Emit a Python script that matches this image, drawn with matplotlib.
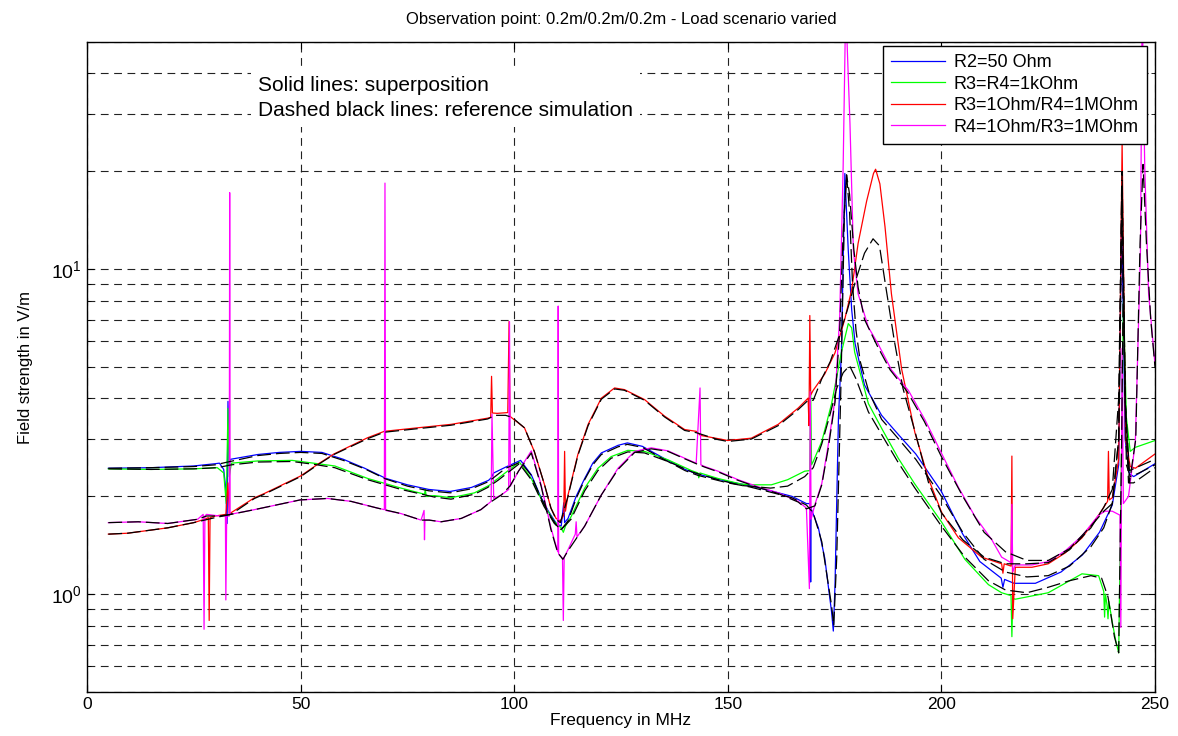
import numpy as np
import matplotlib
matplotlib.use("Agg")
import matplotlib.pyplot as plt
from matplotlib.ticker import FixedLocator, LogLocator, NullFormatter

plt.rcParams["font.family"] = "Liberation Sans"
plt.rcParams["mathtext.fontset"] = "custom"
plt.rcParams["mathtext.rm"] = "Liberation Sans"
plt.rcParams["mathtext.it"] = "Liberation Sans:italic"

# (frequency in MHz, field strength in V/m) - superposition results
blue = [(5, 2.44), (15, 2.45), (25, 2.48), (30, 2.52), (31.0, 2.53), (32.0, 2.42), (32.5, 2.10), (32.8, 1.65),
        (33.0, 3.92), (33.3, 2.50), (33.6, 2.60), (40, 2.69), (45, 2.73), (50, 2.75), (55, 2.73), (60, 2.60),
        (65, 2.44), (70, 2.27), (75, 2.17), (80, 2.10), (85, 2.07), (90, 2.13), (94, 2.24), (94.6, 2.28),
        (95.2, 2.36), (98, 2.46), (101.5, 2.58), (104, 2.33), (106, 2.02), (108, 1.80), (110, 1.64), (111, 1.62),
        (111.6, 1.91), (111.8, 1.66), (112.6, 1.71), (114.5, 2.00), (116.5, 2.27), (118.4, 2.53), (120.4, 2.72),
        (124.3, 2.87), (126.5, 2.92), (130, 2.85), (135, 2.62), (140, 2.42), (143, 2.34), (150, 2.22),
        (155, 2.16), (160, 2.08), (165, 2.00), (168.4, 1.90), (169.3, 1.90), (169.4, 1.09), (169.5, 1.85),
        (169.6, 1.82), (171.2, 1.60), (172.7, 1.29), (174.3, 0.88), (174.7, 0.77), (175.1, 1.07), (175.9, 3.48),
        (176.6, 5.6), (177.4, 19.7), (178.2, 11.4), (179.0, 7.5), (179.8, 5.9), (182, 4.4), (186, 3.55),
        (190, 3.09), (194, 2.70), (200, 2.07), (205, 1.53), (209, 1.26), (214, 1.12), (214.4, 1.05),
        (214.8, 1.11), (217, 1.08), (222, 1.08), (228, 1.17), (233, 1.32), (237, 1.55), (240, 1.88),
        (241.5, 2.5), (242.2, 15.0), (243.0, 3.0), (244, 2.35), (245, 2.30), (250, 2.52)]

green = [(5, 2.43), (15, 2.42), (25, 2.43), (30.5, 2.45), (32.0, 2.36), (32.6, 1.90), (33.0, 3.73), (33.3, 2.30),
         (33.8, 2.53), (40, 2.57), (48, 2.58), (53, 2.53), (58, 2.48), (65.7, 2.27), (73.5, 2.12), (79.0, 2.03),
         (79.2, 2.10), (79.4, 2.00), (81.3, 2.01), (85.2, 1.98), (90.7, 2.05), (93.8, 2.15), (94.6, 2.18),
         (95.2, 2.22), (96.2, 2.27), (101.2, 2.55), (104, 2.27), (107, 1.88), (109.4, 1.67), (111, 1.60),
         (111.5, 1.55), (112, 1.62), (113.3, 1.73), (116.5, 2.12), (119.6, 2.44), (122.7, 2.65), (126.6, 2.77),
         (130.5, 2.75), (136, 2.59), (141.5, 2.40), (143.0, 2.36), (143.2, 2.28), (143.5, 2.36), (147.7, 2.27),
         (153.2, 2.18), (155.5, 2.17), (160.2, 2.17), (164, 2.25), (168, 2.39), (169.2, 2.40), (169.4, 4.20),
         (169.6, 2.50), (170, 2.56), (172, 2.95), (174.3, 3.86), (176.6, 5.55), (178.2, 6.8), (179.0, 6.6),
         (179.7, 5.55), (182.9, 3.86), (186, 3.24), (189.9, 2.62), (193.7, 2.19), (200, 1.67), (205.5, 1.28),
         (211, 1.07), (214.1, 1.01), (216.3, 0.99), (216.5, 0.74), (216.7, 0.97), (217.3, 0.965), (225, 1.01),
         (232.9, 1.155), (236.8, 1.14), (238.0, 1.02), (238.2, 0.85), (238.4, 1.00), (238.8, 0.92),
         (239.0, 0.84), (239.2, 0.95), (240, 0.82), (240.8, 0.72), (241.5, 0.66), (242.2, 3.0), (242.6, 8.0),
         (243.3, 3.5), (244.2, 2.75), (245.4, 2.83), (250, 2.97)]

red = [(5, 1.53), (9.5, 1.54), (18.9, 1.60), (25, 1.66), (27.5, 1.70), (28.4, 1.72), (28.6, 0.83), (28.8, 1.72),
       (30, 1.74), (32.5, 1.76), (33.0, 2.20), (33.3, 1.76), (33.7, 1.78), (39.2, 1.98), (41.5, 2.04), (50, 2.31),
       (54, 2.51), (57.8, 2.70), (65.7, 3.03), (69.6, 3.17), (77.4, 3.25), (85.2, 3.33), (93.8, 3.48),
       (94.5, 3.50), (94.7, 4.68), (94.9, 3.61), (96, 3.60), (98.5, 3.62), (98.8, 6.9), (99.0, 3.53),
       (99.3, 3.50), (102.4, 3.25), (104.7, 2.75), (107.1, 2.17), (108.6, 1.84), (109.8, 1.71), (110.8, 1.68),
       (111.6, 1.75), (111.8, 2.75), (112.0, 1.80), (112.6, 2.02), (114.9, 2.69), (117.3, 3.33), (120.4, 4.01),
       (123.5, 4.31), (125.8, 4.26), (130.5, 3.97), (135.2, 3.53), (139.9, 3.21), (142.6, 3.17), (143.6, 3.08),
       (147.7, 3.01), (150, 2.97), (155.5, 3.02), (161.8, 3.33), (166.5, 3.74), (168.8, 4.01), (169.0, 3.30),
       (169.2, 7.2), (169.4, 4.10), (170, 4.24), (172.7, 4.76), (175.1, 5.53), (177.4, 7.03), (179, 8.65),
       (180.5, 12.0), (182.5, 16.2), (184.1, 19.7), (184.6, 20.3), (185.6, 18.3), (186.8, 13.5), (188.3, 8.4),
       (190.7, 4.92), (193.8, 3.14), (197, 2.26), (200.1, 1.78), (204, 1.49), (209.4, 1.30), (214.1, 1.24),
       (214.4, 1.16), (214.7, 1.24), (216.3, 1.22), (216.5, 2.66), (216.7, 0.84), (217.3, 1.21), (221.2, 1.21),
       (225, 1.24), (229, 1.34), (232.9, 1.49), (236.8, 1.75), (238.9, 1.93), (239.1, 2.75), (239.3, 1.95),
       (240, 1.98), (241.5, 2.6), (242.3, 24.5), (243.1, 3.0), (244.2, 2.47), (245.4, 2.44), (250, 2.70)]

magenta = [(5, 1.66), (12, 1.67), (18.9, 1.65), (25.9, 1.70), (27.2, 1.76), (27.4, 0.78), (27.6, 1.74),
           (28, 1.76), (31, 1.74), (32.4, 1.74), (32.5, 0.96), (32.7, 1.74), (33.3, 1.74), (33.4, 17.2),
           (33.5, 1.76), (39.2, 1.82), (49.9, 1.95), (56.3, 1.97), (61.8, 1.93), (68, 1.84), (69.6, 1.82),
           (69.75, 18.4), (69.9, 1.81), (73.5, 1.77), (78.2, 1.69), (78.9, 1.81), (79.0, 1.47), (79.1, 1.69),
           (80.1, 1.69), (82.9, 1.67), (87.6, 1.71), (92.2, 1.82), (94.2, 1.91), (94.6, 1.93), (94.8, 3.58),
           (95.2, 1.97), (97, 2.02), (98.7, 2.10), (98.9, 6.9), (99.1, 2.15), (101, 2.39), (104, 2.76),
           (106.3, 2.17), (108.6, 1.60), (110.2, 1.35), (110.3, 7.7), (110.4, 1.33), (111.3, 1.29), (111.5, 0.83),
           (111.7, 1.30), (112.6, 1.37), (114.3, 1.53), (114.5, 1.67), (114.7, 1.50), (116.5, 1.62), (120.4, 2.02),
           (124.3, 2.44), (128.2, 2.75), (132.1, 2.82), (136, 2.76), (139.9, 2.62), (142.6, 2.53), (143.5, 4.31),
           (143.7, 2.50), (144.6, 2.47), (147.7, 2.39), (152.4, 2.25), (157.1, 2.14), (161.8, 2.05), (166.5, 1.93),
           (168.4, 1.84), (169.1, 1.04), (169.3, 4.2), (169.5, 1.70), (170.4, 1.89), (172, 2.19), (173.5, 2.87),
           (175.1, 3.98), (176.2, 7.2), (177, 20.6), (177.6, 65), (178.6, 28.0), (179.4, 11.4), (180.5, 8.4),
           (182.9, 6.63), (185.2, 5.88), (188.3, 4.90), (192.3, 4.23), (196.2, 3.43), (200.1, 2.70), (204, 2.13),
           (207.9, 1.73), (211.8, 1.47), (214.1, 1.30), (216.3, 1.25), (216.5, 1.89), (216.7, 1.17), (217.3, 1.23),
           (221.2, 1.23), (225, 1.26), (229, 1.36), (232.9, 1.51), (236.8, 1.75), (238.3, 1.80), (240, 1.80),
           (241.8, 1.75), (242.0, 0.79), (242.3, 5.7), (242.6, 1.9), (243.8, 2.0), (245.4, 2.95), (246.6, 11.4),
           (247.0, 65), (247.6, 20.6), (248.5, 8.4), (250, 5.1)]

# reference simulation, one per load scenario
ref_blue = [(5, 2.44), (15, 2.45), (25, 2.47), (30, 2.50), (33.5, 2.56), (40, 2.67), (45, 2.71), (50, 2.73),
            (55, 2.71), (60, 2.58), (65, 2.43), (70, 2.26), (75, 2.15), (80, 2.08), (85, 2.05), (90, 2.11),
            (94, 2.22), (98, 2.44), (101.5, 2.55), (104, 2.32), (106, 2.01), (108, 1.78), (110, 1.62), (111, 1.58),
            (112.6, 1.68), (114.5, 1.97), (116.5, 2.25), (118.4, 2.50), (120.4, 2.69), (124.3, 2.84), (126.5, 2.89),
            (130, 2.83), (135, 2.60), (140, 2.40), (143, 2.32), (150, 2.20), (155, 2.14), (160, 2.06), (165, 1.98),
            (168.4, 1.88), (170, 1.78), (172, 1.45), (174.3, 0.92), (174.8, 0.80), (175.5, 1.30), (176.5, 4.5),
            (177.3, 15.0), (177.8, 19.5), (178.5, 15.0), (179.2, 9.0), (180, 6.5), (181, 5.2), (183, 4.2),
            (186, 3.45), (190, 3.00), (194, 2.60), (200, 2.00), (205, 1.55), (210, 1.28), (215, 1.17), (220, 1.13),
            (225, 1.14), (230, 1.22), (235, 1.40), (238, 1.60), (240, 1.90), (241.5, 3.0), (242.2, 18.0),
            (243, 4.0), (243.8, 2.2), (245, 2.2), (250, 2.45)]

ref_green = [(5, 2.43), (15, 2.42), (25, 2.43), (30.5, 2.45), (33.8, 2.50), (40, 2.55), (48, 2.56), (53, 2.51),
             (58, 2.45), (65.7, 2.25), (73.5, 2.10), (81.3, 1.99), (85.2, 1.96), (90.7, 2.03), (93.8, 2.13),
             (96.2, 2.24), (101.2, 2.52), (104, 2.25), (107, 1.86), (109.4, 1.65), (111, 1.58), (113.3, 1.70),
             (116.5, 2.08), (119.6, 2.40), (122.7, 2.62), (126.6, 2.74), (130.5, 2.72), (136, 2.56), (141.5, 2.38),
             (147.7, 2.25), (153.2, 2.16), (160, 2.12), (164, 2.15), (168, 2.30), (170, 2.45), (172, 2.90),
             (174, 3.60), (175.5, 4.30), (177, 4.80), (178.5, 5.05), (180, 4.60), (182.9, 3.64), (186, 3.10),
             (189.9, 2.54), (193.7, 2.13), (200, 1.62), (205.5, 1.30), (211, 1.10), (215, 1.03), (220, 1.01),
             (225, 1.05), (230, 1.10), (235, 1.14), (237.5, 1.12), (239, 0.98), (240.5, 0.74), (241.5, 0.66),
             (242.2, 3.0), (242.6, 10.0), (243.3, 2.5), (244.2, 2.3), (246, 2.35), (250, 2.5)]

ref_red = [(5, 1.53), (9.5, 1.54), (18.9, 1.60), (25, 1.66), (30, 1.72), (33.7, 1.76), (39.2, 1.97), (41.5, 2.03),
           (50, 2.30), (54, 2.50), (57.8, 2.69), (65.7, 3.01), (69.6, 3.15), (77.4, 3.23), (85.2, 3.31),
           (93.8, 3.46), (95.5, 3.55), (98, 3.55), (99.5, 3.50), (102.4, 3.25), (104.7, 2.75), (107.1, 2.17),
           (108.6, 1.84), (109.8, 1.70), (110.8, 1.66), (112.6, 2.00), (114.9, 2.67), (117.3, 3.30), (120.4, 3.98),
           (123.5, 4.28), (125.8, 4.24), (130.5, 3.95), (135.2, 3.51), (139.9, 3.19), (142.6, 3.14), (147.7, 2.99),
           (150, 2.95), (155.5, 3.00), (161.8, 3.30), (166.5, 3.70), (168.8, 3.95), (170, 3.95), (172, 4.6),
           (174, 5.2), (176, 6.2), (178, 7.5), (180, 9.3), (182, 11.2), (184, 12.4), (185.5, 11.8), (187, 8.8),
           (189, 6.0), (191, 4.3), (194, 3.1), (197, 2.2), (200, 1.78), (205, 1.47), (210, 1.30), (215, 1.24),
           (220, 1.24), (225, 1.25), (230, 1.37), (235, 1.60), (238, 1.85), (240, 2.10), (241.5, 4.0),
           (242.3, 20.0), (243, 4.0), (244, 2.4), (250, 2.6)]

ref_magenta = [(5, 1.66), (12, 1.67), (18.9, 1.65), (25.9, 1.70), (28, 1.74), (31, 1.74), (33.7, 1.76),
               (39.2, 1.82), (49.9, 1.95), (56.3, 1.97), (61.8, 1.93), (68, 1.84), (73.5, 1.77), (78.2, 1.69),
               (80.1, 1.69), (82.9, 1.67), (87.6, 1.71), (92.2, 1.82), (94.2, 1.91), (97, 2.02), (99, 2.15),
               (101, 2.39), (104, 2.72), (106.3, 2.15), (108.6, 1.58), (110.2, 1.34), (111.4, 1.28), (112.6, 1.36),
               (116.5, 1.62), (120.4, 2.02), (124.3, 2.42), (128.2, 2.73), (132.1, 2.80), (136, 2.75),
               (139.9, 2.61), (142.6, 2.52), (144.6, 2.46), (147.7, 2.38), (152.4, 2.24), (157.1, 2.13),
               (161.8, 2.04), (166.5, 1.92), (168.4, 1.83), (170.4, 1.87), (172, 2.17), (173.5, 2.80),
               (175.1, 3.90), (176.2, 6.5), (177, 13.0), (177.8, 19.5), (178.5, 17.0), (179.5, 11.5),
               (180.5, 8.8), (182, 7.0), (185, 5.8), (188, 4.9), (192, 4.2), (196, 3.4), (200, 2.65), (205, 2.0),
               (210, 1.55), (215, 1.35), (220, 1.27), (225, 1.27), (230, 1.38), (235, 1.62), (238, 1.80),
               (240, 1.90), (241.5, 3.0), (242.3, 18.0), (243, 4.0), (244, 2.2), (245.5, 3.0), (246.5, 12.0),
               (247.2, 21.0), (248, 12.0), (249, 7.0), (250, 5.0)]

labels = ["R2=50 Ohm", "R3=R4=1kOhm", "R3=1Ohm/R4=1MOhm", "R4=1Ohm/R3=1MOhm"]
colors = ["#0000ff", "#00ff00", "#ff0000", "#ff00ff"]

fig = plt.figure(figsize=(11.78, 7.36), dpi=100)
ax = fig.add_axes([87 / 1178, 1 - 692 / 736, 1068 / 1178, 650 / 736])

for pts, col, lab in zip([blue, green, red, magenta], colors, labels):
    f, v = np.array(pts).T
    ax.plot(f, v, color=col, lw=0.9, label=lab)

for pts in [ref_blue, ref_green, ref_red, ref_magenta]:
    f, v = np.array(pts).T
    ax.plot(f, v, color="black", lw=0.9, dashes=(11, 4))

ax.set_yscale("log")
ax.set_xlim(0, 250)
ax.set_ylim(0.5, 50)
ax.set_xticks(range(0, 251, 50))
ax.yaxis.set_major_locator(FixedLocator([1, 10]))
ax.yaxis.set_minor_locator(LogLocator(base=10, subs=np.arange(2, 10)))
ax.yaxis.set_minor_formatter(NullFormatter())

grid_kw = dict(color="#222222", linewidth=0.8, linestyle=(0, (7, 5)))
ax.grid(True, which="both", axis="y", **grid_kw)
ax.grid(True, which="major", axis="x", **grid_kw)

ax.tick_params(which="both", direction="in", top=True, right=True)
ax.tick_params(axis="x", labelsize=12.5)
ax.tick_params(axis="y", labelsize=14)
ax.tick_params(which="major", length=5)
ax.tick_params(which="minor", length=3)
for sp in ax.spines.values():
    sp.set_linewidth(1.0)

ax.set_title("Observation point: 0.2m/0.2m/0.2m - Load scenario varied", fontsize=12, pad=13)
ax.set_xlabel("Frequency in MHz", fontsize=12.5, labelpad=1)
ax.set_ylabel("Field strength in V/m", fontsize=12, labelpad=13)

# note box, white background hides the grid behind it
ax.text(0.160, 0.947, "Solid lines: superposition\nDashed black lines: reference simulation",
        transform=ax.transAxes, ha="left", va="top", fontsize=15, linespacing=1.35, zorder=5,
        bbox=dict(facecolor="white", edgecolor="none", pad=5))

leg = ax.legend(loc="upper right", bbox_to_anchor=((1147 - 87) / 1068, (692 - 46) / 650),
                borderaxespad=0, fancybox=False, framealpha=1, edgecolor="black", fontsize=13,
                handlelength=3.0, labelspacing=0.25, borderpad=0.45, handletextpad=0.5)
leg.get_frame().set_linewidth(1.0)
leg.set_zorder(6)

fig.savefig("out.png", dpi=100)
